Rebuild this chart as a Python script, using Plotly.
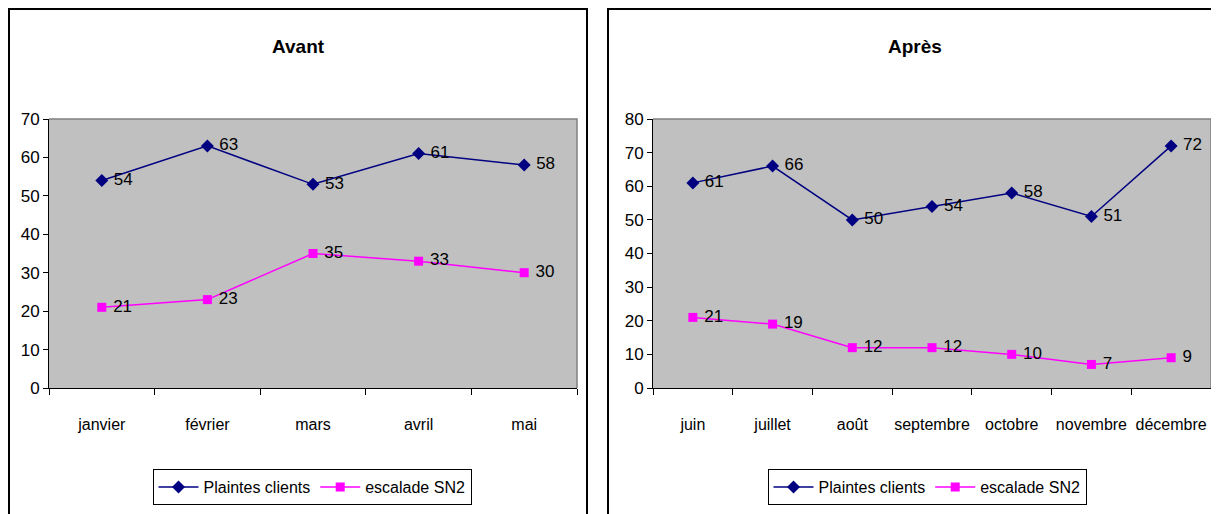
import plotly.graph_objects as go

W, H = 1219, 514
OFF = 8  # page body margin offset

mois_avant = ["janvier", "février", "mars", "avril", "mai"]
plaintes_avant = [54, 63, 53, 61, 58]
escalade_avant = [21, 23, 35, 33, 30]

mois_apres = ["juin", "juillet", "août", "septembre", "octobre", "novembre", "décembre"]
plaintes_apres = [61, 66, 50, 54, 58, 51, 72]
escalade_apres = [21, 19, 12, 12, 10, 7, 9]

FONT = "Liberation Sans Narrow, Arial Narrow, Liberation Sans, Arial, sans-serif"
NAVY = "#000080"
MAG = "#FF00FF"

def px(x):
    return (x - OFF) / W

def py(y):
    return 1 - (y - OFF) / H

fig = go.Figure()

def add_series(x, y, name, color, symbol, size, xa, ya, legend):
    fig.add_trace(go.Scatter(
        x=x, y=y, name=name, mode="lines+markers+text",
        line=dict(color=color, width=1.5),
        marker=dict(color=color, symbol=symbol, size=size),
        text=[f" {v}" for v in y], textposition="middle right",
        textfont=dict(family=FONT, size=17, color="black"),
        xaxis=xa, yaxis=ya, legend=legend, cliponaxis=False,
    ))

add_series(mois_avant, plaintes_avant, "Plaintes clients", NAVY, "diamond", 10, "x", "y", "legend")
add_series(mois_avant, escalade_avant, "escalade SN2", MAG, "square", 9, "x", "y", "legend")
add_series(mois_apres, plaintes_apres, "Plaintes clients", NAVY, "diamond", 10, "x2", "y2", "legend2")
add_series(mois_apres, escalade_apres, "escalade SN2", MAG, "square", 9, "x2", "y2", "legend2")

xcommon = dict(type="category", showgrid=False, showline=True, linecolor="black", linewidth=1,
               ticks="outside", tickson="boundaries", ticklen=6, tickcolor="black",
               tickangle=0, automargin=False, ticklabelstandoff=22,
               tickfont=dict(family=FONT, size=16, color="black"), mirror=False)
ycommon = dict(showgrid=False, showline=True, linecolor="black", linewidth=1,
               ticks="outside", ticklen=5, tickcolor="black", dtick=10, zeroline=False,
               automargin=False,
               tickfont=dict(family=FONT, size=17, color="black"))

legcommon = dict(orientation="h", bordercolor="black", borderwidth=1, bgcolor="white",
                 font=dict(family=FONT, size=16, color="black"), xanchor="center",
                 yanchor="middle", itemwidth=40, tracegroupgap=0)

fig.update_layout(
    width=W, height=H,
    margin=dict(l=0, r=0, t=0, b=0, autoexpand=False),
    paper_bgcolor="white",
    plot_bgcolor="#C0C0C0",
    showlegend=True,
    xaxis=dict(domain=[px(49), px(577)], anchor="y",
               range=[-0.5, len(mois_avant) - 0.5], **xcommon),
    yaxis=dict(domain=[py(388), py(119)], anchor="x", range=[0, 70], **ycommon),
    xaxis2=dict(domain=[px(653), px(1211)], anchor="y2",
                range=[-0.5, len(mois_apres) - 0.5], **xcommon),
    yaxis2=dict(domain=[py(388), py(119)], anchor="x2", range=[0, 80], **ycommon),
    legend=dict(x=px(312), y=py(487), **legcommon),
    legend2=dict(x=px(927), y=py(487), **legcommon),
    annotations=[
        dict(text="<b>Avant</b>", x=px(298), y=py(47), xref="paper", yref="paper",
             xanchor="center", yanchor="middle",
             showarrow=False, font=dict(family=FONT, size=19, color="black")),
        dict(text="<b>Après</b>", x=px(915), y=py(47), xref="paper", yref="paper",
             xanchor="center", yanchor="middle",
             showarrow=False, font=dict(family=FONT, size=19, color="black")),
    ],
    shapes=[
        dict(type="rect", xref="paper", yref="paper", x0=px(9), x1=px(587), y0=py(530), y1=py(9),
             line=dict(color="black", width=2)),
        dict(type="rect", xref="paper", yref="paper", x0=px(608), x1=px(1240), y0=py(530), y1=py(9),
             line=dict(color="black", width=2)),
        dict(type="path", xref="paper", yref="paper",
             path=f"M {px(49)},{py(119)} L {px(577)},{py(119)} L {px(577)},{py(388)}",
             line=dict(color="#808080", width=1.5)),
        dict(type="path", xref="paper", yref="paper",
             path=f"M {px(653)},{py(119)} L {px(1211)},{py(119)} L {px(1211)},{py(388)}",
             line=dict(color="#808080", width=1.5)),
    ],
)

fig.write_html("out.html")
